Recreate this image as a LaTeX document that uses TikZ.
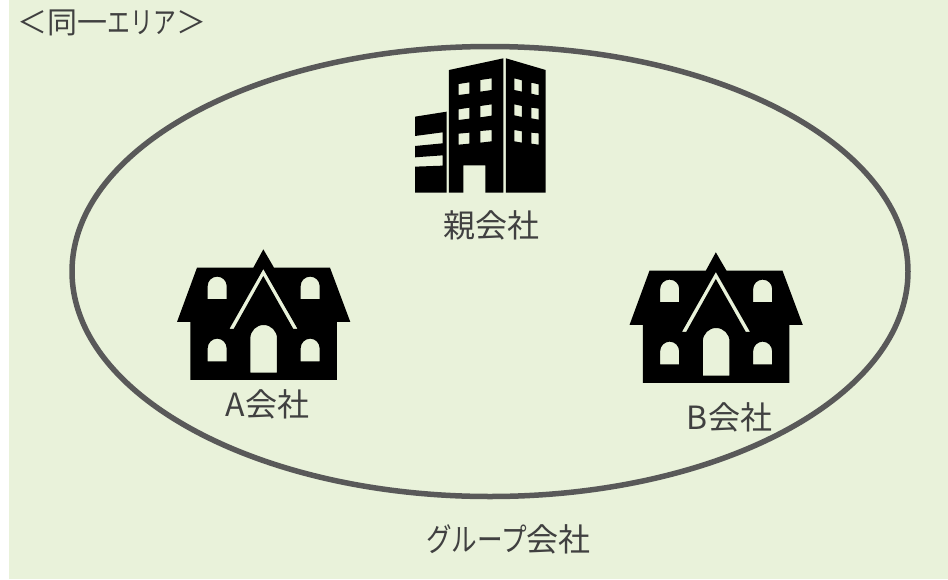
\documentclass[tikz,border=0pt]{standalone}
\usepackage{graphicx}
\usepackage{fontspec}
\setmainfont{Noto Sans CJK JP}
\definecolor{bgreen}{HTML}{E9F2DA}
\definecolor{ringgray}{HTML}{595959}
\definecolor{txtgray}{HTML}{404040}
\tikzset{
  lbl/.style={text=txtgray,inner sep=0pt,font=\fontsize{32}{36}\selectfont},
  toplbl/.style={text=txtgray,inner sep=0pt,font=\fontsize{30}{34}\selectfont},
  ring/.style={draw=ringgray,line width=5.5pt},
  glyph/.style={fill=black,even odd rule},
  zoomA/.style={x=0.3333pt,y=-0.3333pt}
}
\newcommand{\narrowkana}[2][0.76]{\scalebox{#1}[1]{#2}}
\newcommand{\housepath}{
  \fill[glyph] (295,28)--(327,83)--(495,83)--(556,246)--(516,246)--(516,420)--(76,420)--(76,246)--(36,246)--(96,83)--(265,83)--cycle
  (295,87)--(398,267)--(385,267)--(295,108)--(206,267)--(193,267)--cycle
  (128,177)--(128,138) .. controls (128,122) and (141,110) .. (156.5,110) .. controls (172,110) and (185,122) .. (185,138)--(185,177)--cycle
  (407,177)--(407,138) .. controls (407,122) and (420,110) .. (435.5,110) .. controls (451,110) and (464,122) .. (464,138)--(464,177)--cycle
  (128,364)--(128,325) .. controls (128,309) and (141,296) .. (156.5,296) .. controls (172,296) and (185,309) .. (185,325)--(185,364)--cycle
  (407,364)--(407,325) .. controls (407,309) and (420,296) .. (435.5,296) .. controls (451,296) and (464,309) .. (464,325)--(464,364)--cycle
  (256,398)--(256,295) .. controls (256,273) and (274,255) .. (296,255) .. controls (318,255) and (336,273) .. (336,295)--(336,398)--cycle;
}
\begin{document}
\begin{tikzpicture}[x=1pt,y=-1pt]
\useasboundingbox (0,0) rectangle (948,579);
\fill[bgreen] (9,0) rectangle (948,579);
\draw[ring] (490,271.5) ellipse [x radius=418,y radius=225];
% building
\begin{scope}[shift={(400,50)},zoomA]
\fill[glyph] (147,60)--(310,25)--(310,428)--(256,428)--(256,346)--(190,346)--(190,428)--(147,428)--cycle
 (176,102)--(208,97)--(208,131)--(176,135)--cycle
 (241,90)--(275,85)--(275,120)--(241,125)--cycle
 (176,178)--(208,173)--(208,206)--(176,210)--cycle
 (241,168)--(275,163)--(275,197)--(241,202)--cycle
 (176,251)--(208,248)--(208,281)--(176,284)--cycle
 (241,243)--(275,240)--(275,274)--(241,278)--cycle;
\fill[glyph] (318,25)--(437,60)--(437,428)--(318,428)--cycle
 (343,85)--(366,91)--(366,125)--(343,120)--cycle
 (394,98)--(416,103)--(416,136)--(394,131)--cycle
 (343,163)--(366,168)--(366,201)--(343,196)--cycle
 (394,173)--(416,176)--(416,209)--(394,205)--cycle
 (343,240)--(366,244)--(366,278)--(343,274)--cycle
 (394,248)--(416,250)--(416,284)--(394,281)--cycle;
\fill[glyph] (45,200)--(140,185)--(140,428)--(45,428)--(45,350)--(128,347)--(128,316)--(45,322)--(45,288)--(128,280)--(128,247)--(45,258)--cycle;
\end{scope}
% houses
\begin{scope}[shift={(165,240)},zoomA]\housepath\end{scope}
\begin{scope}[shift={(617.5,243)},zoomA]\housepath\end{scope}
% labels
\node[toplbl] (area) at (112,23) {＜同一\narrowkana{エリア}＞};
\node[lbl] (parent) at (491.5,225) {親会社};
\node[lbl] (a) at (267.5,404) {A会社};
\node[lbl] (b) at (729.5,417) {B会社};
\node[lbl] (group) at (508.5,539.5) {\narrowkana[0.8]{グループ}会社};
\end{tikzpicture}
\end{document}
